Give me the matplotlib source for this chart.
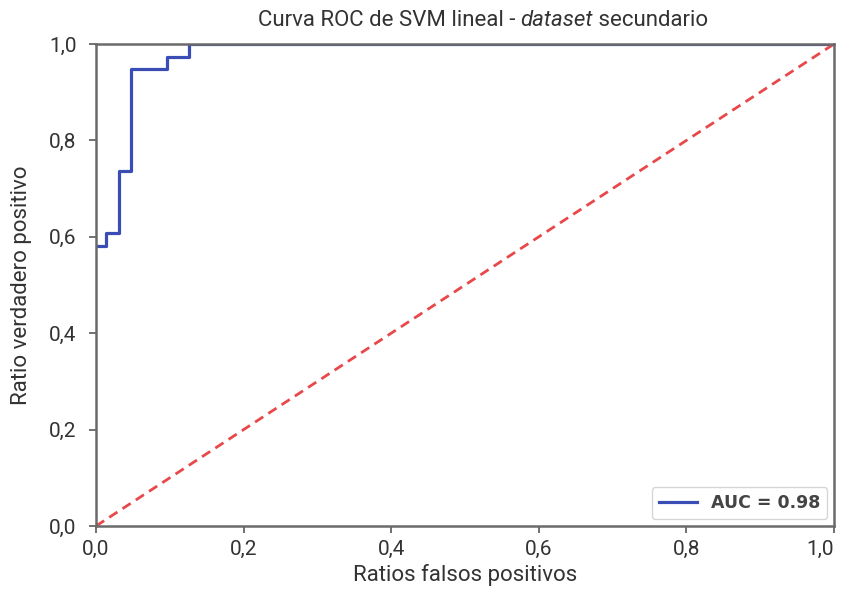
import matplotlib
matplotlib.use("Agg")
import matplotlib.pyplot as plt

fpr = [0.0, 0.0133, 0.0133, 0.031, 0.031, 0.047, 0.047, 0.096, 0.096, 0.126, 0.126, 1.0]
tpr = [0.58, 0.58, 0.607, 0.607, 0.737, 0.737, 0.948, 0.948, 0.974, 0.974, 1.0, 1.0]
diag = [0.0, 1.0]
auc_label = "AUC = 0.98"
ticks = [0.0, 0.2, 0.4, 0.6, 0.8, 1.0]
tick_labels = ["0,0", "0,2", "0,4", "0,6", "0,8", "1,0"]
title_parts = ["Curva ROC de SVM lineal - ", "dataset", " secundario"]

plt.rcParams['font.family'] = ['Roboto', 'DejaVu Sans']

fig = plt.figure(figsize=(8.44, 6.01), dpi=100)
ax = fig.add_axes([96/844, 1-526/601, (834-96)/844, (526-44)/601])

ax.plot(fpr, tpr, color='#3a4db5', lw=2.3, label=auc_label, zorder=2)
ax.plot(diag, diag, color='#e8484a', lw=2.0, ls=(0, (3.5, 2.2)), zorder=2)

ax.set_xlim(0, 1)
ax.set_ylim(0, 1)
ax.set_xticks(ticks)
ax.set_xticklabels(tick_labels)
ax.set_yticks(ticks)
ax.set_yticklabels(tick_labels)
ax.tick_params(axis='both', labelsize=15, colors='#666666', labelcolor='#333333',
               length=5, width=1.3, direction='out')
ax.tick_params(axis='x', pad=5)
ax.tick_params(axis='y', pad=9)
ax.get_xticklabels()[-1].set_ha('right')
for s in ax.spines.values():
    s.set_color('#6a6a6a')
    s.set_linewidth(1.8)
    s.set_zorder(3)

ax.set_xlabel("Ratios falsos positivos", fontsize=16, color='#333333', labelpad=4)
ax.set_ylabel("Ratio verdadero positivo", fontsize=16, color='#333333', labelpad=12)

# Title made of three pieces (middle one italic), centered like the reference
ty = 1 - 26/601
t1 = fig.text(0, ty, title_parts[0], fontsize=16, color='#333333', va='baseline')
t2 = ax.annotate(title_parts[1], xy=(1, 0), xycoords=t1, fontsize=16, color='#333333',
                 style='italic', va='bottom', annotation_clip=False)
t3 = ax.annotate(title_parts[2], xy=(1, 0), xycoords=t2, fontsize=16, color='#333333',
                 va='bottom', annotation_clip=False)
fig.canvas.draw()
r = fig.canvas.get_renderer()
w = sum(t.get_window_extent(r).width for t in (t1, t2, t3))
cx = 483
t1.set_x((cx - w / 2) / 844)

leg = ax.legend(loc='lower right', prop={'family': 'DejaVu Sans', 'weight': 'bold', 'size': 12.5},
                frameon=True, fancybox=True, edgecolor='#cccccc', handlelength=2.2,
                borderpad=0.4, borderaxespad=0.4)
for t in leg.get_texts():
    t.set_color('#444444')

fig.savefig("out.png", dpi=100)
